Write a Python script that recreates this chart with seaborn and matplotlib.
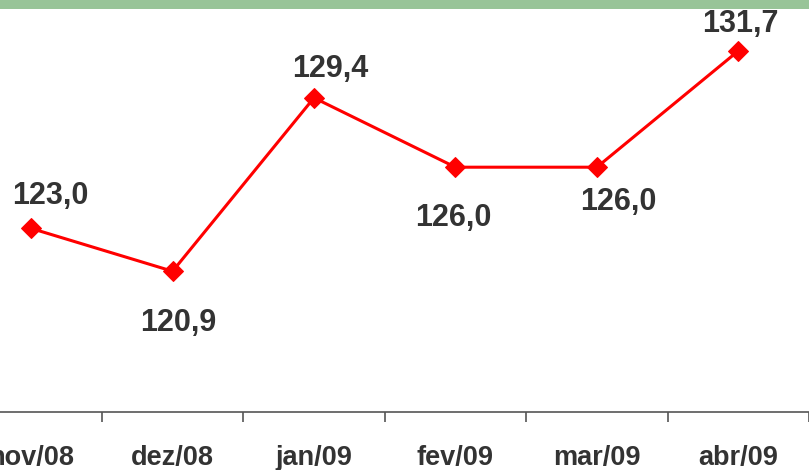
import matplotlib
matplotlib.use("Agg")
import matplotlib.pyplot as plt
import seaborn as sns
import pandas as pd
from matplotlib.patches import Rectangle
from matplotlib.ticker import FixedLocator

categories = ["nov/08", "dez/08", "jan/09", "fev/09", "mar/09", "abr/09"]
values = [123.0, 120.9, 129.4, 126.0, 126.0, 131.7]
value_labels = ["123,0", "120,9", "129,4", "126,0", "126,0", "131,7"]
# label baseline offsets in pixels (dx, dy; dy positive = down)
label_offsets = [(19.5, -24), (6, 60), (16, -21), (-2, 59), (21.5, 43), (2, -19)]

sns.set_theme(style="white")
plt.rcParams["font.family"] = ["Liberation Sans", "DejaVu Sans"]

W, H, DPI = 809, 470, 100
fig = plt.figure(figsize=(W / DPI, H / DPI), dpi=DPI)
fig.patch.set_facecolor("white")
ax = fig.add_axes([0, (H - 412) / H, 1, 412 / H])
ax.set_facecolor("white")

df = pd.DataFrame({"x": range(len(categories)), "value": values})
sns.lineplot(data=df, x="x", y="value", ax=ax, color="#ff0000", linewidth=2.2,
             marker="D", markersize=10, markeredgecolor="#ff0000", sort=False)

ax.set_xlim(-0.22, 5.5)
ax.set_ylim(114.0, 114.0 + 412 / 20.4)

for i, (v, lab) in enumerate(zip(values, value_labels)):
    dx, dy = label_offsets[i]
    ax.annotate(lab, (i, v), xytext=(dx * 0.72, -dy * 0.72), textcoords="offset points",
                ha="center", va="baseline", fontsize=22, fontweight="bold", color="#333333")

for s in ["left", "right", "top"]:
    ax.spines[s].set_visible(False)
ax.spines["bottom"].set_color("#555555")
ax.spines["bottom"].set_linewidth(1.2)

ax.set_xticks(range(len(categories)))
ax.set_xticklabels(categories, fontsize=19.5, fontweight="bold", color="#333333")
ax.xaxis.set_minor_locator(FixedLocator([i + 0.5 for i in range(-1, len(categories))]))
ax.tick_params(axis="x", which="major", length=0, pad=24)
ax.tick_params(axis="x", which="minor", length=7.2, width=1.2, color="#555555", direction="out", bottom=True)
ax.set_yticks([])
ax.set_xlabel("")
ax.set_ylabel("")

fig.add_artist(Rectangle((0, 1 - 9 / H), 1, 9 / H, transform=fig.transFigure,
                         facecolor="#98c498", edgecolor="none"))

fig.savefig("out.png", dpi=DPI)
